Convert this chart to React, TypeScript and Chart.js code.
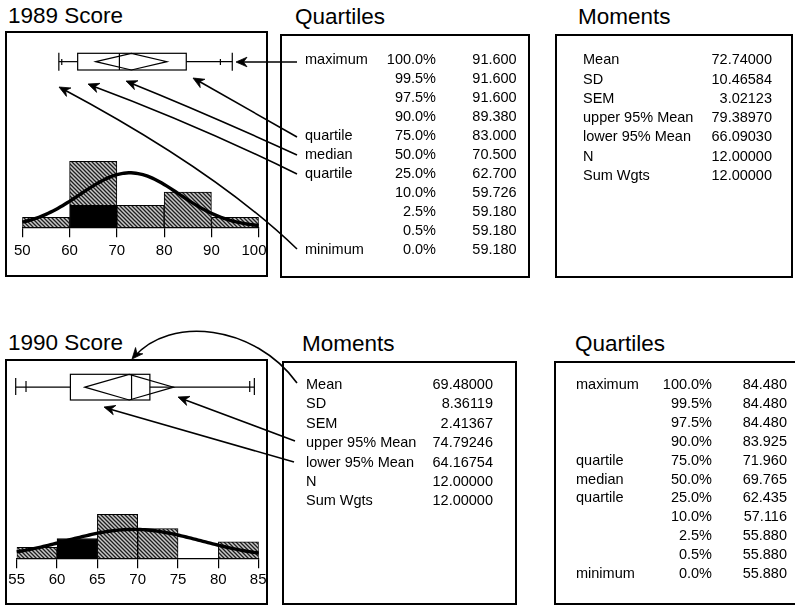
import React, { useEffect, useRef } from 'react';
import { Chart, registerables } from 'chart.js';

Chart.register(...registerables);

const FONT_FAMILY = '"Liberation Sans", Arial, Helvetica, sans-serif';

// ---------- 1989 scores ----------
const BIN_EDGES_1989 = [50, 60, 70, 80, 90, 100];
const FREQ_1989 = [0.9, 6, 2, 3.2, 0.9];
const SELECTED_1989 = [0, 2, 0, 0, 0];
const QUANTILES_1989 = [91.6, 91.6, 91.6, 89.38, 83.0, 70.5, 62.7, 59.726, 59.18, 59.18, 59.18];
const MOMENTS_1989 = [72.74, 10.46584, 3.02123, 79.3897, 66.0903, 12, 12];

// ---------- 1990 scores ----------
const BIN_EDGES_1990 = [55, 60, 65, 70, 75, 80, 85];
const FREQ_1990 = [1, 1.8, 4, 2.7, 0, 1.5];
const SELECTED_1990 = [0, 1.8, 0, 0, 0, 0];
const QUANTILES_1990 = [84.48, 84.48, 84.48, 83.925, 71.96, 69.765, 62.435, 57.116, 55.88, 55.88, 55.88];
const MOMENTS_1990 = [69.48, 8.36119, 2.41367, 74.79246, 64.16754, 12, 12];

// ---------- table row labels ----------
const QUANTILE_LEVELS = ['100.0%', '99.5%', '97.5%', '90.0%', '75.0%', '50.0%', '25.0%', '10.0%', '2.5%', '0.5%', '0.0%'];
const QUANTILE_NAMES = ['maximum', '', '', '', 'quartile', 'median', 'quartile', '', '', '', 'minimum'];
const MOMENT_NAMES = ['Mean', 'SD', 'SEM', 'upper 95% Mean', 'lower 95% Mean', 'N', 'Sum Wgts'];

const PANEL_W = 263;
const PANEL_H = 246;

type PanelSpec = {
  left: number;
  top: number;
  edges: number[];
  freq: number[];
  selected: number[];
  quantiles: number[];
  moments: number[];
  tickStep: number;
  boxRange: [number, number];
  padding: { left: number; right: number; top: number; bottom: number };
  yMax: number;
  box: { top: number; bottom: number; capTop: number; capBottom: number; tickTop: number; tickBottom: number };
  labelOffset: number;
};

const PANEL_1989: PanelSpec = {
  left: 5,
  top: 31,
  edges: BIN_EDGES_1989,
  freq: FREQ_1989,
  selected: SELECTED_1989,
  quantiles: QUANTILES_1989,
  moments: MOMENTS_1989,
  tickStep: 10,
  boxRange: [52.35, 96.54],
  padding: { left: 17.3, right: 9.3, top: 0, bottom: 39.7 },
  yMax: 17.85,
  box: { top: 22.3, bottom: 39, capTop: 21.7, capBottom: 39.7, tickTop: 28, tickBottom: 34 },
  labelOffset: 24,
};

const PANEL_1990: PanelSpec = {
  left: 5,
  top: 359,
  edges: BIN_EDGES_1990,
  freq: FREQ_1990,
  selected: SELECTED_1990,
  quantiles: QUANTILES_1990,
  moments: MOMENTS_1990,
  tickStep: 5,
  boxRange: [56.0, 85.0],
  padding: { left: 11.7, right: 9.3, top: 0, bottom: 36.7 },
  yMax: 18.1,
  box: { top: 15.3, bottom: 41, capTop: 19, capBottom: 36, tickTop: 22, tickBottom: 33 },
  labelOffset: 22,
};

function hatchPattern(ctx: CanvasRenderingContext2D): CanvasPattern | string {
  const c = document.createElement('canvas');
  c.width = 4;
  c.height = 4;
  const g = c.getContext('2d');
  if (!g) return '#999';
  g.fillStyle = '#c8c8c8';
  g.fillRect(0, 0, 4, 4);
  g.strokeStyle = '#1e1e1e';
  g.lineWidth = 1.3;
  g.beginPath();
  g.moveTo(0, 0);
  g.lineTo(4, 4);
  g.moveTo(-1, 3);
  g.lineTo(1, 5);
  g.moveTo(3, -1);
  g.lineTo(5, 1);
  g.stroke();
  return ctx.createPattern(c, 'repeat') || '#999';
}

function HistogramPanel({ spec }: { spec: PanelSpec }) {
  const ref = useRef<HTMLCanvasElement>(null);

  useEffect(() => {
    const canvas = ref.current;
    if (!canvas) return;
    const ctx = canvas.getContext('2d');
    if (!ctx) return;

    const { edges, freq, selected, moments, quantiles } = spec;
    const xMin = edges[0];
    const xMax = edges[edges.length - 1];
    const binWidth = edges[1] - edges[0];
    const centers = edges.slice(0, -1).map((e, i) => (e + edges[i + 1]) / 2);
    const rest = freq.map((f, i) => f - selected[i]);
    const total = freq.reduce((a, b) => a + b, 0);

    // normal fit from the reported mean and SD, scaled to the histogram area
    const mean = moments[0];
    const sd = moments[1];
    const fit: { x: number; y: number }[] = [];
    for (let k = 0; k <= 100; k++) {
      const x = xMin + ((xMax - xMin) * k) / 100;
      const z = (x - mean) / sd;
      fit.push({ x, y: (total * binWidth * Math.exp(-0.5 * z * z)) / (sd * Math.sqrt(2 * Math.PI)) });
    }

    const boxPlot = {
      id: 'boxPlot',
      afterDatasetsDraw(chart: any) {
        const s = chart.scales.xBox;
        const px = (v: number) => s.getPixelForValue(v);
        const c = chart.ctx as CanvasRenderingContext2D;
        const b = spec.box;
        const max = quantiles[0];
        const p90 = quantiles[3];
        const q3 = quantiles[4];
        const med = quantiles[5];
        const q1 = quantiles[6];
        const p10 = quantiles[7];
        const min = quantiles[10];
        const lo = moments[4];
        const hi = moments[3];
        const yc = (b.top + b.bottom) / 2;
        c.save();
        c.strokeStyle = '#000';
        c.lineWidth = 1.2;
        const seg = (x1: number, y1: number, x2: number, y2: number) => {
          c.beginPath();
          c.moveTo(x1, y1);
          c.lineTo(x2, y2);
          c.stroke();
        };
        seg(px(min), yc, px(q1), yc);
        seg(px(q3), yc, px(max), yc);
        seg(px(min), b.capTop, px(min), b.capBottom);
        seg(px(max), b.capTop, px(max), b.capBottom);
        seg(px(p10), b.tickTop, px(p10), b.tickBottom);
        seg(px(p90), b.tickTop, px(p90), b.tickBottom);
        c.strokeRect(px(q1), b.top, px(q3) - px(q1), b.bottom - b.top);
        seg(px(med), b.top, px(med), b.bottom);
        c.beginPath();
        c.moveTo(px(lo), yc);
        c.lineTo(px(mean), b.top);
        c.lineTo(px(hi), yc);
        c.lineTo(px(mean), b.bottom);
        c.closePath();
        c.stroke();
        c.restore();
      },
      afterDraw(chart: any) {
        const sc = chart.scales.x;
        const c = chart.ctx as CanvasRenderingContext2D;
        c.save();
        c.font = `15px ${FONT_FAMILY}`;
        c.fillStyle = '#000';
        c.textAlign = 'center';
        c.textBaseline = 'middle';
        for (const t of sc.ticks) {
          const label = String(t.value);
          const w = c.measureText(label).width;
          const x = Math.min(sc.getPixelForValue(t.value), chart.width - 1.5 - w / 2);
          c.fillText(label, x, chart.chartArea.bottom + spec.labelOffset);
        }
        c.restore();
      },
    };

    const pattern = hatchPattern(ctx);

    const chart = new Chart(canvas, {
      type: 'bar',
      data: {
        datasets: [
          {
            type: 'line',
            data: fit,
            borderColor: '#000',
            borderWidth: 3.4,
            pointRadius: 0,
            tension: 0,
            stack: 'fit',
            order: 0,
            clip: 6,
          } as any,
          {
            type: 'bar',
            data: centers.map((x, i) => ({ x, y: selected[i] > 0 ? selected[i] : null })),
            backgroundColor: '#000',
            borderColor: '#000',
            borderWidth: 1,
            barPercentage: 1,
            categoryPercentage: 1,
            stack: 'hist',
            order: 2,
          } as any,
          {
            type: 'bar',
            data: centers.map((x, i) => ({ x, y: rest[i] > 0 ? rest[i] : null })),
            backgroundColor: pattern,
            borderColor: '#000',
            borderWidth: 1,
            barPercentage: 1,
            categoryPercentage: 1,
            stack: 'hist',
            order: 2,
          } as any,
        ],
      },
      options: {
        responsive: false,
        animation: false,
        devicePixelRatio: 1,
        layout: { padding: spec.padding },
        plugins: { legend: { display: false }, tooltip: { enabled: false } },
        scales: {
          x: {
            type: 'linear',
            min: xMin,
            max: xMax,
            stacked: true,
            offset: false,
            ticks: { display: false, stepSize: spec.tickStep },
            grid: {
              display: true,
              offset: false,
              drawOnChartArea: false,
              drawTicks: true,
              tickLength: 10,
              color: '#000',
              lineWidth: 1.2,
            },
            border: { display: true, color: '#000', width: 1.2 },
          },
          // scale used by the box plot strip above the histogram
          xBox: {
            type: 'linear',
            axis: 'x',
            position: 'bottom',
            display: true,
            offset: false,
            min: spec.boxRange[0],
            max: spec.boxRange[1],
            ticks: { display: false },
            grid: { display: false, drawTicks: false, offset: false },
            border: { display: false },
          },
          y: { display: false, min: 0, max: spec.yMax, stacked: true },
        } as any,
      },
      plugins: [boxPlot],
    });

    return () => chart.destroy();
  }, [spec]);

  return (
    <canvas
      ref={ref}
      width={PANEL_W}
      height={PANEL_H}
      style={{ position: 'absolute', left: spec.left, top: spec.top, width: PANEL_W, height: PANEL_H }}
    />
  );
}

// text placed by its baseline
function Txt({
  x,
  base,
  size,
  align = 'left',
  children,
  spacing = 0,
}: {
  x: number;
  base: number;
  size: number;
  align?: 'left' | 'right';
  children: React.ReactNode;
  spacing?: number;
}) {
  const top = base - 0.8465 * size;
  const style: React.CSSProperties = {
    position: 'absolute',
    top,
    fontSize: size,
    lineHeight: `${size}px`,
    whiteSpace: 'pre',
    letterSpacing: spacing,
  };
  if (align === 'left') {
    style.left = x;
  } else {
    style.left = x - 300;
    style.width = 300;
    style.textAlign = 'right';
  }
  return <div style={style}>{children}</div>;
}

function Frame({ l, t, r, b }: { l: number; t: number; r: number; b: number }) {
  return (
    <div
      style={{
        position: 'absolute',
        left: l,
        top: t,
        width: r - l,
        height: b - t,
        border: '2px solid #000',
        boxSizing: 'border-box',
        pointerEvents: 'none',
      }}
    />
  );
}

const TABLE_FONT = 14.5;
const TITLE_FONT = 22.5;

function QuantileTable({ values, nameX, levelX, valueX, base0, step }: { values: number[]; nameX: number; levelX: number; valueX: number; base0: number; step: number }) {
  return (
    <>
      {values.map((v, i) => (
        <React.Fragment key={i}>
          {QUANTILE_NAMES[i] && (
            <Txt x={nameX} base={base0 + step * i} size={TABLE_FONT}>
              {QUANTILE_NAMES[i]}
            </Txt>
          )}
          <Txt x={levelX} base={base0 + step * i} size={TABLE_FONT} align="right">
            {QUANTILE_LEVELS[i]}
          </Txt>
          <Txt x={valueX} base={base0 + step * i} size={TABLE_FONT} align="right">
            {v.toFixed(3)}
          </Txt>
        </React.Fragment>
      ))}
    </>
  );
}

function MomentTable({ values, nameX, valueX, base0, step }: { values: number[]; nameX: number; valueX: number; base0: number; step: number }) {
  return (
    <>
      {values.map((v, i) => (
        <React.Fragment key={i}>
          <Txt x={nameX} base={base0 + step * i} size={TABLE_FONT}>
            {MOMENT_NAMES[i]}
          </Txt>
          <Txt x={valueX} base={base0 + step * i} size={TABLE_FONT} align="right">
            {v.toFixed(5)}
          </Txt>
        </React.Fragment>
      ))}
    </>
  );
}

// callout leaders: path plus tip and the point the tip is approached from
const CALLOUTS: { d: string; tip: [number, number]; from: [number, number] }[] = [
  { d: 'M297,62 L238,62', tip: [236, 62], from: [297, 62] },
  { d: 'M297,137 L195,79', tip: [193, 78], from: [297, 137] },
  { d: 'M297,155 Q205,113 128,82', tip: [126, 81], from: [205, 113] },
  { d: 'M297,174 Q195,124 90,85', tip: [88, 84], from: [195, 124] },
  { d: 'M297,249 Q215,170 61,88', tip: [59, 87], from: [215, 170] },
  { d: 'M297,383 C255,325 170,315 134,357', tip: [132, 359], from: [170, 315] },
  { d: 'M295,441 L180,398', tip: [178, 397], from: [295, 441] },
  { d: 'M294,462 L106,408', tip: [104, 407], from: [294, 462] },
];

function arrowHead(tip: [number, number], from: [number, number]) {
  const dx = tip[0] - from[0];
  const dy = tip[1] - from[1];
  const len = Math.hypot(dx, dy) || 1;
  const ux = dx / len;
  const uy = dy / len;
  const L = 11;
  const H = 4.8;
  const N = 7.5;
  const bx = tip[0] - ux * L;
  const by = tip[1] - uy * L;
  const p1 = [bx - uy * H, by + ux * H];
  const p2 = [bx + uy * H, by - ux * H];
  const n = [tip[0] - ux * N, tip[1] - uy * N];
  return `M${tip[0]},${tip[1]} L${p1[0]},${p1[1]} L${n[0]},${n[1]} L${p2[0]},${p2[1]} Z`;
}

export default function App() {
  return (
    <div
      style={{
        position: 'fixed',
        left: 0,
        top: 0,
        width: 795,
        height: 607,
        background: '#fff',
        overflow: 'hidden',
        fontFamily: FONT_FAMILY,
        color: '#000',
      }}
    >
      <HistogramPanel spec={PANEL_1989} />
      <HistogramPanel spec={PANEL_1990} />

      <Frame l={5} t={31} r={268} b={277} />
      <Frame l={279.5} t={33.5} r={530} b={277.5} />
      <Frame l={555} t={33.5} r={793} b={277.5} />
      <Frame l={5} t={359} r={268} b={605} />
      <Frame l={282} t={361} r={517} b={605} />
      <Frame l={554} t={361} r={820} b={605} />

      <Txt x={8} base={24} size={TITLE_FONT}>1989 Score</Txt>
      <Txt x={295} base={25.5} size={TITLE_FONT}>Quartiles</Txt>
      <Txt x={578} base={25.5} size={TITLE_FONT}>Moments</Txt>
      <Txt x={8} base={351} size={TITLE_FONT}>1990 Score</Txt>
      <Txt x={302} base={352} size={TITLE_FONT}>Moments</Txt>
      <Txt x={575} base={352} size={TITLE_FONT}>Quartiles</Txt>

      <QuantileTable values={QUANTILES_1989} nameX={305} levelX={436} valueX={516.7} base0={64.5} step={18.95} />
      <MomentTable values={MOMENTS_1989} nameX={583} valueX={772} base0={64.5} step={19.3} />
      <MomentTable values={MOMENTS_1990} nameX={306} valueX={493} base0={389.2} step={19.4} />
      <QuantileTable values={QUANTILES_1990} nameX={576} levelX={712} valueX={787} base0={389.5} step={18.87} />

      <svg
        width={795}
        height={607}
        style={{ position: 'absolute', left: 0, top: 0, pointerEvents: 'none' }}
      >
        {CALLOUTS.map((c, i) => (
          <g key={i}>
            <path d={c.d} fill="none" stroke="#000" strokeWidth={1.6} />
            <path d={arrowHead(c.tip, c.from)} fill="#000" stroke="#000" strokeWidth={0.8} strokeLinejoin="miter" />
          </g>
        ))}
      </svg>
    </div>
  );
}
